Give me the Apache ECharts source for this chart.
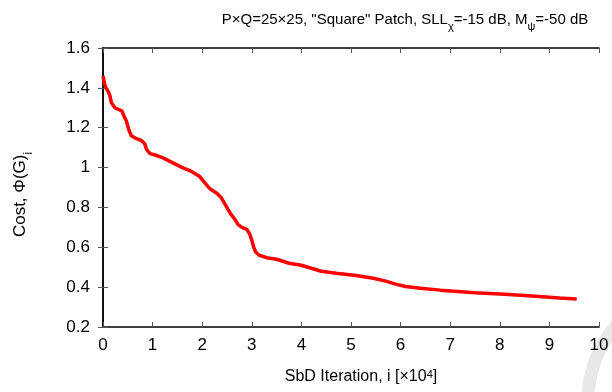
<!DOCTYPE html>
<html>
<head>
<meta charset="utf-8">
<script src="https://cdn.jsdelivr.net/npm/echarts@6/dist/echarts.min.js"></script>
<style>html,body{margin:0;padding:0;background:#fff}#c{width:612px;height:392px}</style>
</head>
<body>
<div id="c"></div>
<script>
// Iteration (x10^4)
const iters = [0, 0.03, 0.06, 0.11, 0.14, 0.17, 0.24, 0.38, 0.42, 0.47, 0.52, 0.57, 0.65, 0.78, 0.84, 0.88, 0.95, 1.05, 1.2, 1.4, 1.6, 1.75, 1.85, 1.95, 2.05, 2.15, 2.3, 2.38, 2.45, 2.52, 2.58, 2.66, 2.72, 2.8, 2.9, 2.96, 3.0, 3.04, 3.08, 3.15, 3.3, 3.5, 3.75, 4.0, 4.4, 4.7, 5.1, 5.45, 5.7, 5.9, 6.1, 6.4, 6.8, 7.5, 8.1, 8.8, 9.2, 9.55];
// Cost values
const cost = [1.46, 1.42, 1.40, 1.38, 1.36, 1.325, 1.30, 1.285, 1.26, 1.235, 1.19, 1.16, 1.148, 1.135, 1.12, 1.09, 1.07, 1.063, 1.05, 1.025, 1.0, 0.985, 0.97, 0.955, 0.925, 0.895, 0.87, 0.85, 0.82, 0.79, 0.765, 0.74, 0.715, 0.70, 0.69, 0.665, 0.635, 0.60, 0.575, 0.56, 0.548, 0.54, 0.52, 0.51, 0.48, 0.47, 0.458, 0.445, 0.43, 0.415, 0.403, 0.395, 0.385, 0.372, 0.364, 0.353, 0.345, 0.34];
const xTicks = [0,1,2,3,4,5,6,7,8,9,10];
const yTicks = [0.2,0.4,0.6,0.8,1,1.2,1.4,1.6];

const FONT = 'Liberation Sans';
function styles(size) {
  return {
    n: {fontFamily: FONT, fontSize: size, fontWeight: 'normal', color: '#000', lineHeight: size + 2, verticalAlign: 'top'},
    s: {fontFamily: FONT, fontSize: Math.round(size * 0.7), fontWeight: 'normal', color: '#000', lineHeight: Math.round(size * 0.7), padding: [Math.round(size * 0.62), 0, 0, 0], verticalAlign: 'top'},
    p: {fontFamily: FONT, fontSize: Math.round(size * 0.7), fontWeight: 'normal', color: '#000', lineHeight: Math.round(size * 0.7), padding: [0, 0, 0, 0], verticalAlign: 'top'}
  };
}

const chart = echarts.init(document.getElementById('c'), null, {renderer: 'canvas'});
const tickStyle = {show: true, inside: true, length: 5, lineStyle: {color: '#555', width: 1}};
const axisLineStyle = {show: true, lineStyle: {color: '#000', width: 1.5}};
chart.setOption({
  animation: false,
  graphic: [{
    type: 'arc', z: -10, silent: true,
    shape: {cx: 700, cy: 400, r: 112, startAngle: Math.PI * 0.9, endAngle: Math.PI * 1.3},
    style: {stroke: '#e8e8e8', lineWidth: 13, fill: null}
  }],
  title: {
    text: '{n|P×Q=25×25, "Square" Patch, SLL}{s|χ}{n|=-15 dB, M}{s|ψ}{n|=-50 dB}',
    left: 400, top: 7, textAlign: 'center',
    textStyle: {fontWeight: 'normal', rich: styles(15)}
  },
  grid: {left: 103, right: 13, top: 48, bottom: 65},
  xAxis: [{
    type: 'value', min: 0, max: 10, interval: 1,
    axisLine: axisLineStyle, axisTick: tickStyle, splitLine: {show: false},
    axisLabel: {fontFamily: FONT, fontSize: 17, color: '#000', margin: 10,
      formatter: v => xTicks.includes(v) ? String(v) : ''},
    name: '{n|SbD Iteration, i [×10}{p|4}{n|]}',
    nameLocation: 'middle', nameGap: 42,
    nameTextStyle: {padding: [0, 0, 0, 20], rich: styles(16)}
  }, {
    type: 'value', min: 0, max: 10, interval: 1, position: 'top',
    axisLine: axisLineStyle, axisTick: tickStyle, axisLabel: {show: false}, splitLine: {show: false}
  }],
  yAxis: [{
    type: 'value', min: 0.2, max: 1.6, interval: 0.2,
    axisLine: axisLineStyle, axisTick: tickStyle, splitLine: {show: false},
    axisLabel: {fontFamily: FONT, fontSize: 17, color: '#000', margin: 13,
      formatter: v => { const t = yTicks.find(y => Math.abs(y - v) < 1e-9); return t === undefined ? '' : String(t); }},
    name: '{n|Cost, Φ(G)}{s|i}',
    nameLocation: 'middle', nameGap: 72,
    nameTextStyle: {padding: [0, 14, 0, 0], rich: styles(17)}
  }, {
    type: 'value', min: 0.2, max: 1.6, interval: 0.2, position: 'right',
    axisLine: axisLineStyle, axisTick: tickStyle, axisLabel: {show: false}, splitLine: {show: false}
  }],
  series: [{
    type: 'line',
    data: iters.map((x, i) => [x, cost[i]]),
    showSymbol: false, symbol: 'none',
    lineStyle: {color: '#ff0000', width: 3.5},
    clip: true
  }]
});
</script>
</body>
</html>
